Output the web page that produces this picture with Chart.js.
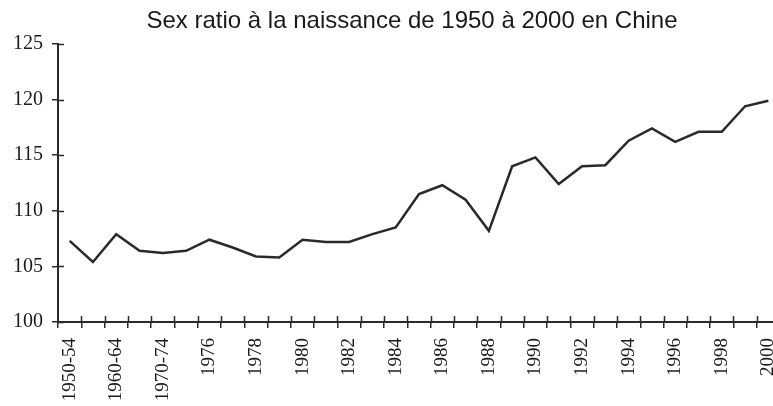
<!DOCTYPE html>
<html>
<head>
<meta charset="utf-8">
<script src="https://cdn.jsdelivr.net/npm/chart.js@4/dist/chart.umd.min.js"></script>
<style>
    html, body { margin: 0; padding: 0; background: #fff; overflow: hidden; }
    #wrap { width: 773px; height: 406px; overflow: hidden; position: relative; }
    #chart { position: absolute; left: 0; top: 0; }
</style>
</head>
<body>
<div id="wrap"><canvas id="chart" width="781" height="406"></canvas></div>
<script>
/* 데이터 */
var titleText = "Sex ratio à la naissance de 1950 à 2000 en Chine";

var periods = ["1950-54", "1955-59", "1960-64", "1965-69", "1970-74",
    "1975", "1976", "1977", "1978", "1979", "1980", "1981", "1982", "1983",
    "1984", "1985", "1986", "1987", "1988", "1989", "1990", "1991", "1992",
    "1993", "1994", "1995", "1996", "1997", "1998", "1999", "2000"];

var sexRatio = [107.3, 105.4, 107.9, 106.4, 106.2, 106.4, 107.4, 106.7, 105.9,
    105.8, 107.4, 107.2, 107.2, 107.9, 108.5, 111.5, 112.3, 111.0, 108.2,
    114.0, 114.8, 112.4, 114.0, 114.1, 116.3, 117.4, 116.2, 117.1, 117.1,
    119.4, 119.9];

var yTicks = [100, 105, 110, 115, 120, 125];

var axisColor = "#2b2b2b";
var serif = "'Liberation Serif', 'DejaVu Serif', serif";

/* 제목 + 안쪽 눈금 */
var extrasPlugin = {
    id: "extras",
    afterDraw: function(chart) {
        var ctx = chart.ctx;
        var xs = chart.scales.x;
        var ys = chart.scales.y;

        ctx.save();
        ctx.strokeStyle = axisColor;
        ctx.lineWidth = 1.5;
        ctx.beginPath();
        // x 눈금 (축 위쪽)
        var n = periods.length;
        var step = (xs.right - xs.left) / n;
        for (var i = 1; i <= n; i++) {
            var px = Math.round(xs.left + step * i) + 0.5;
            ctx.moveTo(px, xs.top);
            ctx.lineTo(px, xs.top - 6);
        }
        // y 눈금 (축 오른쪽)
        for (var j = 0; j < yTicks.length; j++) {
            var py = Math.round(ys.getPixelForValue(yTicks[j])) + 0.5;
            ctx.moveTo(ys.right, py);
            ctx.lineTo(ys.right + 6, py);
        }
        ctx.stroke();

        ctx.fillStyle = "#1a1a1a";
        ctx.font = "24px 'Liberation Sans', Arial, sans-serif";
        ctx.textAlign = "center";
        ctx.textBaseline = "alphabetic";
        ctx.fillText(titleText, 412, 28);
        ctx.restore();
    }
};

window.onload = function() {
    var ctx = document.getElementById("chart").getContext("2d");
    window.theChart = new Chart(ctx, {
        type: "line",
        data: {
            labels: periods,
            datasets: [{
                label: "Sex ratio",
                data: sexRatio,
                borderColor: "#2a2a2a",
                borderWidth: 2.5,
                pointRadius: 0,
                tension: 0,
                fill: false
            }]
        },
        options: {
            responsive: false,
            animation: false,
            devicePixelRatio: 1,
            layout: { padding: { top: 44, right: 1, left: 0, bottom: 0 } },
            plugins: {
                legend: { display: false },
                title: { display: false },
                tooltip: { enabled: false }
            },
            scales: {
                x: {
                    type: "category",
                    offset: true,
                    afterFit: function(scale) {
                        scale.height = 84;
                        scale.paddingLeft = 0;
                        scale.paddingRight = 0;
                    },
                    grid: {
                        offset: true,
                        drawOnChartArea: false,
                        drawTicks: true,
                        tickLength: 6,
                        color: axisColor,
                        lineWidth: 1.5
                    },
                    border: { display: true, color: axisColor, width: 2 },
                    ticks: {
                        autoSkip: false,
                        maxRotation: 90,
                        minRotation: 90,
                        padding: 10,
                        color: "#1a1a1a",
                        font: { family: serif, size: 19 },
                        callback: function(value, index) {
                            return index % 2 === 0 ? periods[index] : "";
                        }
                    }
                },
                y: {
                    min: 100,
                    max: 125,
                    afterFit: function(scale) {
                        scale.width = 58;
                        scale.paddingTop = 0;
                        scale.paddingBottom = 0;
                    },
                    afterBuildTicks: function(scale) {
                        scale.ticks = yTicks.map(function(v) { return { value: v }; });
                    },
                    grid: {
                        drawOnChartArea: false,
                        drawTicks: true,
                        tickLength: 6,
                        color: axisColor,
                        lineWidth: 1.5
                    },
                    border: { display: true, color: axisColor, width: 2 },
                    ticks: {
                        padding: 9,
                        color: "#1a1a1a",
                        font: { family: serif, size: 20 }
                    }
                }
            }
        },
        plugins: [extrasPlugin]
    });
};
</script>
</body>
</html>
